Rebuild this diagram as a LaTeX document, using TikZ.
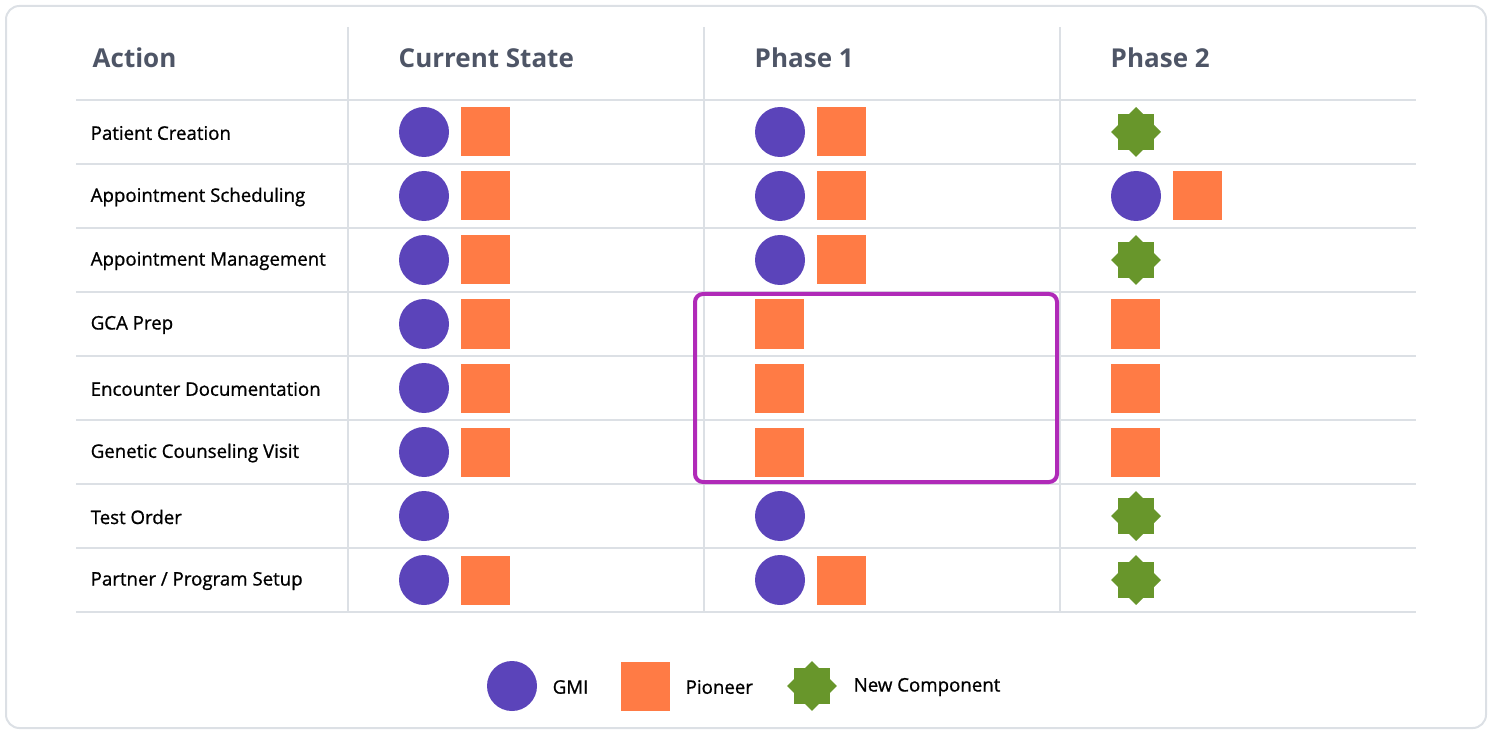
\documentclass[tikz,border=0pt]{standalone}
\usepackage{fontspec}
\setmainfont{Open Sans}
\newfontfamily\semibold{Open Sans}[FakeBold=0.9]
\usetikzlibrary{shapes.geometric}

\definecolor{gmi}{HTML}{5B44BA}
\definecolor{pioneer}{HTML}{FF7B45}
\definecolor{newcomp}{HTML}{68962B}
\definecolor{head}{HTML}{4E5566}
\definecolor{rule}{HTML}{DCE0E5}
\definecolor{frame}{HTML}{B02AB8}

\tikzset{
  gmi/.style={circle, fill=gmi, minimum size=37.5pt, inner sep=0pt},
  pio/.style={rectangle, fill=pioneer, minimum size=36.75pt, inner sep=0pt},
  sq/.style={rectangle, fill=newcomp, minimum size=26.5pt, inner sep=0pt},
  newc/.style={sq, append after command={
    node[sq, rotate=45] at (\tikzlastnode.center) {}}},
  head/.style={anchor=west, text=head, font=\fontsize{19.5}{24}\selectfont\bfseries},
  lbl/.style={anchor=west, font=\fontsize{14}{16}\selectfont\semibold},
  grid/.style={rule, line width=1.5pt}
}

\begin{document}
\begin{tikzpicture}[x=0.75pt, y=-0.75pt]
  \useasboundingbox (0,0) rectangle (1492,734);
  \draw[rule, line width=1.5pt, rounded corners=10pt] (6,6) rectangle (1486,728);

  % grid
  \foreach \y in {100,164,...,612}
    \draw[grid] (76,\y) -- (1416,\y);
  \foreach \x in {348,704,1060}
    \draw[grid] (\x,27) -- (\x,612);

  % headers
  \node[head] (hAct) at (88,58) {Action};
  \node[head] (hCur) at (394,58) {Current State};
  \node[head] (hPh1) at (750,58) {Phase 1};
  \node[head] (hPh2) at (1106,58) {Phase 2};

  % rows
  \foreach \n/\t in {1/Patient Creation, 2/Appointment Scheduling,
      3/Appointment Management, 4/GCA Prep, 5/Encounter Documentation,
      6/Genetic Counseling Visit, 7/Test Order, 8/{Partner / Program Setup}}
    \node[lbl] (r\n) at (86,{100+64*\n-31}) {\t};

  % current state
  \foreach \n in {1,...,8}
    \node[gmi] (cg\n) at (424,{68+64*\n}) {};
  \foreach \n in {1,2,3,4,5,6,8}
    \node[pio] (cp\n) at (485.5,{68+64*\n}) {};

  % phase 1
  \foreach \n in {1,2,3,7,8}
    \node[gmi] (ag\n) at (780,{68+64*\n}) {};
  \foreach \n in {1,2,3,8}
    \node[pio] (ap\n) at (841.5,{68+64*\n}) {};
  \foreach \n in {4,5,6}
    \node[pio] (ap\n) at (779.5,{68+64*\n}) {};

  % phase 2
  \foreach \n in {1,3,7,8}
    \node[newc] (bn\n) at (1136,{68+64*\n}) {};
  \node[gmi] (bg2) at (1136,196) {};
  \node[pio] (bp2) at (1197.5,196) {};
  \foreach \n in {4,5,6}
    \node[pio] (bp\n) at (1135.5,{68+64*\n}) {};

  % highlight
  \draw[frame, line width=3pt, rounded corners=6pt] (695,294) rectangle (1057,482);

  % legend
  \node[gmi] (lg) at (512,686) {};
  \node[lbl] (lgt) at (548,687) {GMI};
  \node[pio] (lp) at (645.5,686) {};
  \node[lbl] (lpt) at (681,687) {Pioneer};
  \node[newc] (ln) at (812,686) {};
  \node[lbl] (lnt) at (849,687) {New Component};
\end{tikzpicture}
\end{document}
